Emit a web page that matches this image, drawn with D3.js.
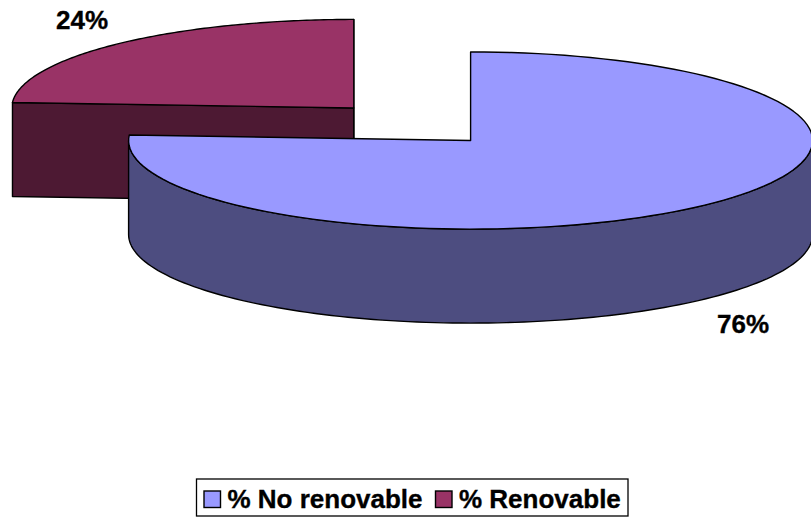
<!DOCTYPE html>
<html><head><meta charset="utf-8">
<script src="https://cdnjs.cloudflare.com/ajax/libs/d3/7.8.5/d3.min.js"></script>
<style>html,body{margin:0;padding:0;background:#fff;overflow:hidden}svg{display:block}text{font-family:"Liberation Sans",Arial,sans-serif;font-weight:bold;fill:#000;stroke:#000;stroke-width:.35px}</style>
</head><body><svg id="c" width="811" height="517"></svg>
<script>
const categories = ["% No renovable", "% Renovable"];
const values = [76, 24];
const valueLabels = ["76%", "24%"];
const topColors = ["#9999ff", "#993366"];
const sideColors = ["#4d4d80", "#4d1933"];

const svg = d3.select("#c");
const rx = 342, ry = 88.6, depth = 94;
const centers = [[470.6, 140.5], [353.8, 108]];
const labelPos = [[743, 324], [82, 20]];
const arcs = d3.pie().sort(null).value(d => d)(values);

const pt = (a, dy = 0) => [rx * Math.sin(a), -ry * Math.cos(a) + dy];
const line = d3.line();
const sample = (a0, a1, dy) => d3.range(0, 121).map(i => pt(a0 + (a1 - a0) * i / 120, dy));

const topPath = (a) => line([[0, 0], ...sample(a.startAngle, a.endAngle, 0)]) + "Z";
const wallPath = (a0, a1) => line([...sample(a0, a1, 0), ...sample(a1, a0, depth)]) + "Z";
const flatPath = (p, q) => line([p, q, [q[0], q[1] + depth], [p[0], p[1] + depth]]) + "Z";

const stroke = g => g.attr("stroke", "#000").attr("stroke-width", 1.4).attr("stroke-linejoin", "round");

// small slice (behind)
const gs = svg.append("g").attr("transform", `translate(${centers[1]})`);
const s = arcs[1];
gs.append("path").attr("d", flatPath(pt(s.startAngle), [0, 0])).attr("fill", sideColors[1]).call(stroke);
gs.append("path").attr("d", flatPath([0, 0], pt(s.endAngle))).attr("fill", sideColors[1]).call(stroke);
gs.append("path").attr("d", topPath(s)).attr("fill", topColors[1]).call(stroke);

// large slice (front): the wall stops at the widest point of the rim
const gb = svg.append("g").attr("transform", `translate(${centers[0]})`);
const b = arcs[0];
gb.append("path").attr("d", wallPath(Math.PI / 2, Math.min(b.endAngle, 3 * Math.PI / 2))).attr("fill", sideColors[0]).call(stroke);
gb.append("path").attr("d", topPath(b)).attr("fill", topColors[0]).call(stroke);

// value labels
svg.selectAll("text.v").data(valueLabels).join("text").attr("class", "v")
  .attr("x", (d, i) => labelPos[i][0]).attr("y", (d, i) => labelPos[i][1])
  .attr("dy", "0.36em").attr("text-anchor", "middle").attr("font-size", 26).text(d => d);

// legend
svg.append("rect").attr("x", 196.5).attr("y", 479).attr("width", 431.5).attr("height", 37)
  .attr("fill", "#fff").attr("stroke", "#000").attr("stroke-width", 1.3);
const lx = [204, 435.5], tx = [227.5, 459];
categories.forEach((c, i) => {
  svg.append("rect").attr("x", lx[i]).attr("y", 491).attr("width", 16.5).attr("height", 16.5)
    .attr("fill", topColors[i]).attr("stroke", "#000").attr("stroke-width", 1.4);
  svg.append("text").attr("x", tx[i]).attr("y", 499).attr("dy", "0.36em")
    .attr("font-size", 26).text(c);
});
</script></body></html>
